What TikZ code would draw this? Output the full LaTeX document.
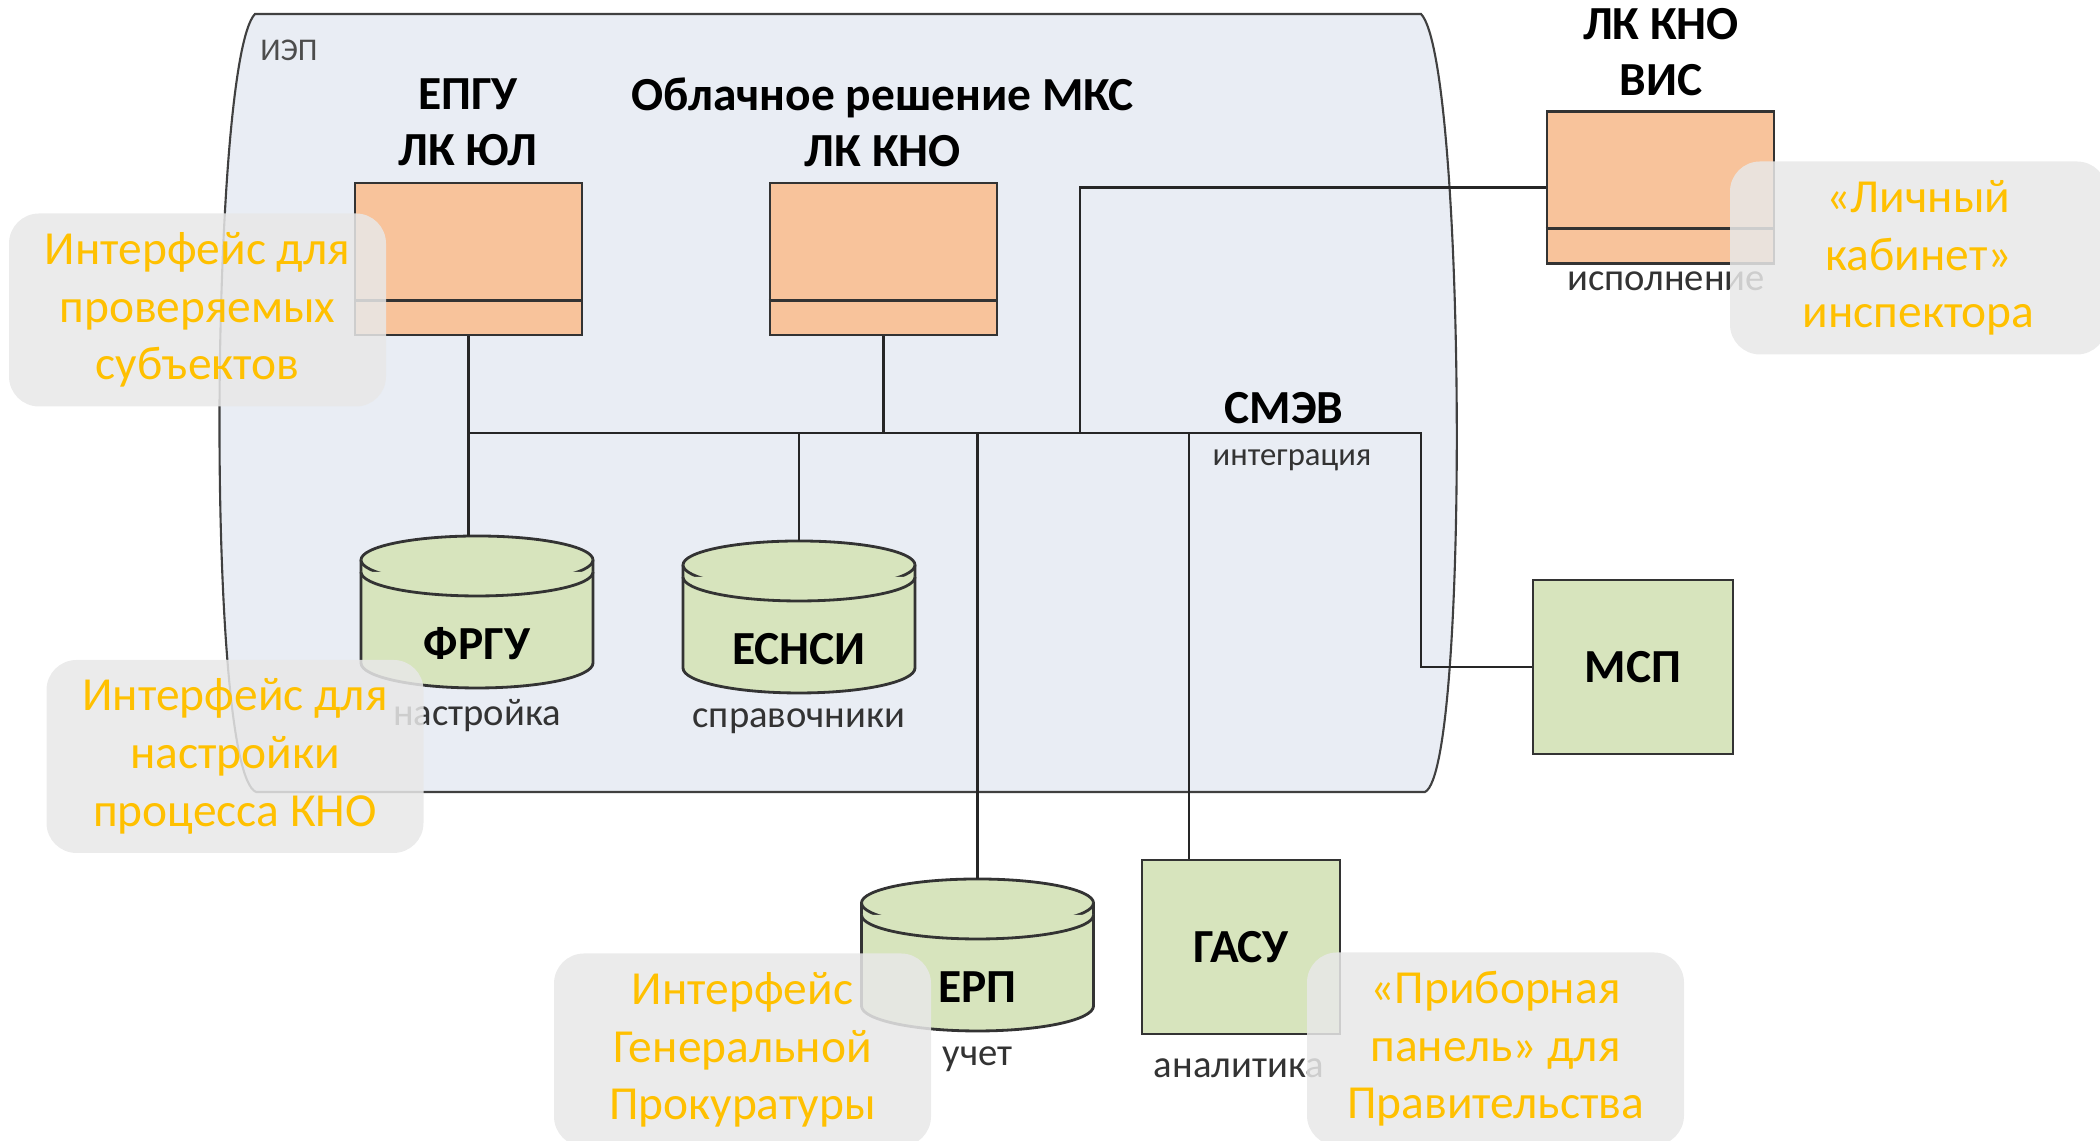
\documentclass[tikz,border=0pt]{standalone}
\usepackage{fontspec}
\setmainfont{Carlito}

\definecolor{iepfill}{HTML}{E9EDF4}
\definecolor{peach}{HTML}{F8C39B}
\definecolor{olive}{HTML}{D7E4BD}
\definecolor{gold}{HTML}{FFC000}

\newcommand{\hdfont}{\fontsize{13.5}{16}\selectfont\bfseries}

% database can: name, x, y of top ellipse, label, caption
\newcommand{\dbcan}[5]{%
  \begin{scope}[shift={(#2,#3)}]
    \draw[can] (-1.16,0) -- (-1.16,-1.03) arc (180:360:1.16 and 0.25)
      -- (1.16,0) arc (0:180:1.16 and 0.24) -- cycle;
    \draw[can] (-1.16,0) arc (180:360:1.16 and 0.24);
    \draw[can] (-1.16,-0.12) arc (180:360:1.16 and 0.24);
    \coordinate (#1) at (0,0.24);
    \node[font=\hdfont] (#1-t) at (0,-0.84) {#4};
    \node[note] (#1-cap) at (0,-1.56) {#5};
  \end{scope}}

\begin{document}
\begin{tikzpicture}[line width=0.6pt,
  link/.style={draw=black!85},
  head/.style={font=\hdfont, align=center},
  note/.style={font=\fontsize{11}{13}\selectfont, text=black!80},
  sysbox/.style={draw=black!80, line width=0.8pt, fill=peach,
    minimum width=2.27cm, minimum height=1.52cm},
  regbox/.style={draw=black!80, line width=0.8pt, fill=olive,
    minimum width=2cm, minimum height=1.74cm, font=\hdfont},
  can/.style={draw=black!80, line width=0.8pt, fill=olive},
  tip/.style={rounded corners=0.3cm, fill=black!9, fill opacity=0.85,
    text opacity=1, text=gold, align=center,
    minimum width=3.77cm, minimum height=1.93cm,
    font=\fontsize{13.5}{16.4}\selectfont}]
\useasboundingbox (0,0) rectangle (21,11.41);

% outline
\draw[draw=black!75, fill=iepfill] (2.55,11.27) -- (14.21,11.27)
  .. controls (14.66,10.81) and (14.70,3.71) .. (14.25,3.49) -- (2.56,3.49)
  .. controls (2.05,3.71) and (2.10,10.81) .. cycle;
\node[note, text=black!70, font=\fontsize{9}{11}\selectfont] (iep) at (2.89,10.91) {ИЭП};

% systems
\node[head] (epgu-h) at (4.68,10.19) {ЕПГУ\\ЛК ЮЛ};
\node[head] (mks-h) at (8.83,10.19) {Облачное решение МКС\\ЛК КНО};
\node[head] (vis-h) at (16.61,10.89) {ЛК КНО\\ВИС};
\node[sysbox] (epgu) at (4.685,8.82) {};
\node[sysbox] (mks) at (8.835,8.82) {};
\node[sysbox] (vis) at (16.605,9.535) {};
\foreach \b in {epgu,mks,vis}
  \draw[black!80, line width=0.8pt] ([yshift=0.36cm]\b.south west) -- ([yshift=0.36cm]\b.south east);
\node[note] (vis-cap) at (16.66,8.60) {исполнение};

\dbcan{frgu}{4.77}{5.81}{ФРГУ}{настройка}
\dbcan{esnsi}{7.99}{5.76}{ЕСНСИ}{справочники}
\dbcan{erp}{9.775}{2.38}{ЕРП}{учет}

\node[regbox] (msp) at (16.33,4.74) {МСП};
\node[regbox, minimum width=1.98cm] (gasu) at (12.41,1.94) {ГАСУ};
\node[note] (gasu-cap) at (12.39,0.73) {аналитика};

% СМЭВ bus
\node[head] (smev) at (12.84,7.33) {СМЭВ};
\node[note, font=\fontsize{9.3}{11}\selectfont] (smev-cap) at (12.92,6.81) {интеграция};
\coordinate (busL) at (4.685,7.08);
\coordinate (busR) at (14.21,7.08);
\coordinate (tapV) at (10.80,7.08);
\coordinate (tapG) at (11.89,7.08);

\draw[link] (busL) -- (busR) |- (msp.west);
\draw[link] (epgu.south) -- (epgu.south |- frgu);
\draw[link] (mks.south) -- (mks.south |- busL);
\draw[link] (esnsi |- busL) -- (esnsi);
\draw[link] (erp |- busL) -- (erp);
\draw[link] (tapV) |- (vis.west);
\draw[link] (tapG) -- (tapG |- gasu.north);

% interfaces
\node[tip] (tip-subj) at (1.975,8.31) {Интерфейс для\\проверяемых\\субъектов};
\node[tip] (tip-insp) at (19.185,8.83) {«Личный\\кабинет»\\инспектора};
\node[tip] (tip-setup) at (2.35,3.845) {Интерфейс для\\настройки\\процесса КНО};
\node[tip] (tip-gp) at (7.425,0.91) {Интерфейс\\Генеральной\\Прокуратуры};
\node[tip] (tip-gov) at (14.955,0.92) {«Приборная\\панель» для\\Правительства};
\end{tikzpicture}
\end{document}
